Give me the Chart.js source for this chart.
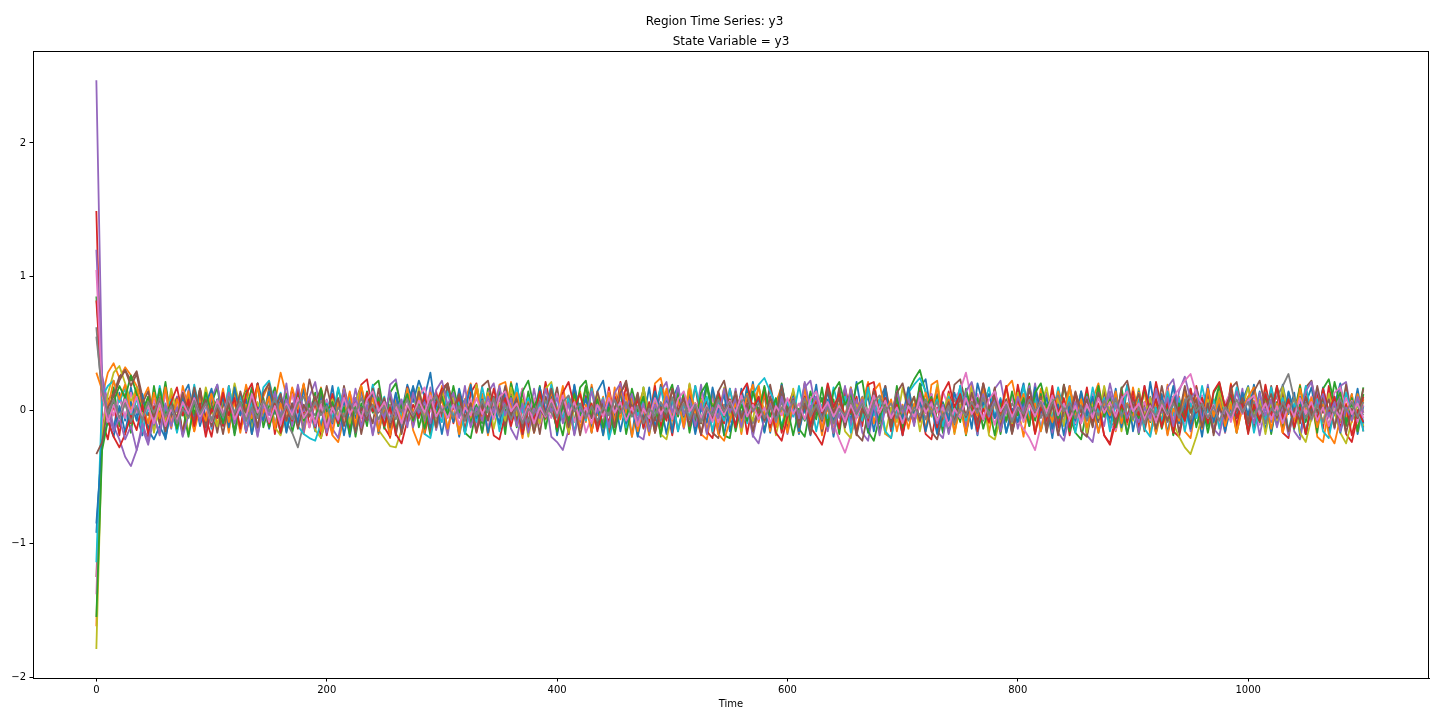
<!DOCTYPE html>
<html>
<head>
<meta charset="utf-8">
<title>Region Time Series: y3</title>
<script src="https://cdn.jsdelivr.net/npm/chart.js@4.4.1/dist/chart.umd.min.js"></script>
<style>
  html, body { margin: 0; padding: 0; background: #fff; }
  canvas { display: block; }
</style>
</head>
<body>
<canvas id="regionChart" width="1440" height="720"></canvas>
<script>
// sampling step of the series (time units), ticks and colours
const STEP = 5;
const xTicks = [0, 200, 400, 600, 800, 1000];
const yTicks = [-2, -1, 0, 1, 2];
const tab10 = ['#1f77b4', '#ff7f0e', '#2ca02c', '#d62728', '#9467bd',
               '#8c564b', '#e377c2', '#7f7f7f', '#bcbd22', '#17becf'];

// y3 per region, one value every STEP time units from t = 0
const y3_r00 = [-0.92,
  -0.2, 0.06, -0.15, 0.13, -0.08, 0.17, -0.03, -0.19, 0.09, -0.12, 0.16, -0.22, 0.02, -0.16, 0.11, 0.19, -0.06, 0.14, -0.14, 0.05,
  0.19, -0.08, 0.12, -0.17, 0.04, 0.16, -0.11, 0.2, 0.05, -0.14, 0.1, -0.18, -0.03, 0.15, -0.1, 0.17, 0.02, -0.16, 0.11, -0.05,
  0.18, -0.12, 0.07, -0.2, 0.04, 0.14, -0.09, 0.17, -0.15, 0.03, -0.18, 0.12, -0.02, 0.19, 0.06, 0.22, 0.1, 0.28, -0.03, 0.14,
  -0.16, 0.08, -0.2, 0.04, 0.17, -0.07, 0.12, -0.18, 0.02, -0.11, 0.16, -0.04, 0.2, -0.09, 0.07, -0.16, 0.13, -0.03, 0.18, -0.19,
  0.03, -0.12, 0.19, -0.05, 0.11, -0.17, 0.14, 0.22, -0.02, 0.1, -0.16, 0.05, -0.2, 0.12, -0.07, 0.17, -0.13, 0.04, -0.18, 0.08,
  0.18, -0.09, 0.13, -0.16, 0.02, 0.2, -0.07, 0.11, -0.19, 0.05, -0.12, 0.16, -0.03, 0.21, -0.08, 0.12, -0.17, 0.06, 0.15, -0.11,
  0.04, -0.18, 0.12, -0.05, 0.19, -0.13, 0.08, -0.2, 0.03, 0.16, -0.09, 0.21, -0.04, 0.11, -0.16, 0.07, 0.18, -0.12, 0.02, -0.19,
  0.09, -0.07, 0.17, 0.23, -0.03, 0.12, -0.17, 0.05, -0.11, 0.18, -0.13, 0.04, -0.19, 0.11, -0.05, 0.16, -0.12, 0.08, -0.17, 0.03,
  0.2, -0.08, 0.13, -0.15, 0.04, -0.21, 0.09, -0.03, 0.18, -0.11, 0.14, -0.18, 0.07, -0.08, 0.17, -0.13, 0.1, -0.04, 0.19, -0.16,
  0.05, -0.11, 0.21, -0.04, 0.12, -0.18, 0.08, -0.07, 0.16, -0.14, 0.03, -0.2, 0.09, -0.02, 0.17, -0.11, 0.13, -0.17, 0.07, 0.18,
  -0.05, 0.14, -0.16, 0.08, -0.12, 0.19, -0.03, 0.13, -0.19, 0.05, 0.17, -0.09, 0.1, -0.16, 0.04, 0.2, -0.07, 0.12, -0.18, 0.03];

const y3_r01 = [-1.62,
  0.1, 0.28, 0.35, 0.24, 0.32, 0.26, 0.18, 0.08, 0.17, -0.04, 0.15, -0.09, 0.12, -0.13, 0.18, 0.01, -0.16, 0.09, -0.06, 0.14,
  -0.12, 0.08, -0.17, 0.13, -0.04, 0.19, 0.03, -0.14, 0.1, 0.2, 0.06, 0.28, 0.11, -0.08, 0.15, -0.18, 0.05, -0.11, 0.17, -0.03,
  -0.19, -0.24, -0.06, 0.1, -0.13, 0.17, -0.05, 0.12, -0.18, 0.03, -0.21, 0.08, -0.11, 0.14, -0.15, -0.26, -0.09, 0.07, -0.14, 0.18,
  -0.04, 0.13, -0.17, 0.07, 0.2, -0.08, 0.12, -0.19, 0.04, 0.16, -0.12, 0.21, -0.02, -0.21, 0.05, -0.13, 0.17, -0.07, 0.11, -0.16,
  0.08, -0.18, 0.03, 0.14, -0.09, 0.19, -0.04, 0.1, -0.16, 0.17, -0.07, 0.12, -0.2, 0.02, 0.15, -0.1, 0.2, 0.24, 0.04, -0.14,
  0.09, -0.12, 0.17, -0.05, -0.18, -0.22, 0.02, -0.13, 0.16, -0.04, 0.1, -0.18, 0.07, 0.19, -0.09, 0.13, -0.16, 0.05, 0.18, -0.08,
  0.12, -0.17, 0.2, -0.03, 0.09, -0.19, 0.05, -0.12, 0.16, -0.07, 0.13, -0.15, 0.04, 0.21, -0.1, 0.08, -0.18, -0.21, 0.03, -0.13,
  0.17, -0.05, 0.11, -0.16, 0.19, 0.22, -0.08, 0.12, -0.18, 0.04, -0.11, 0.2, -0.03, 0.14, -0.17, 0.07, -0.09, 0.18, -0.13, 0.02,
  -0.2, 0.09, -0.07, 0.16, -0.12, 0.05, -0.17, 0.18, 0.03, -0.09, 0.13, -0.19, 0.08, 0.2, -0.04, 0.12, -0.16, 0.04, -0.11, 0.17,
  -0.03, 0.14, -0.18, 0.07, -0.08, 0.19, -0.12, 0.1, -0.16, -0.21, 0.04, -0.09, 0.16, -0.02, 0.12, -0.17, 0.2, -0.05, 0.09, -0.14,
  0.07, -0.1, 0.18, -0.04, 0.13, -0.17, 0.03, -0.12, 0.19, -0.06, 0.1, -0.2, -0.24, 0.01, -0.13, 0.16, -0.05, 0.12, -0.16, 0.08];

const y3_r02 = [0.85,
  0.24, -0.07, 0.17, -0.12, 0.08, -0.17, 0.13, 0.02, -0.14, 0.18, -0.05, 0.21, -0.09, 0.06, -0.18, 0.12, -0.03, 0.16, -0.13, 0.05,
  0.17, -0.1, 0.08, -0.19, 0.04, 0.14, -0.07, 0.2, -0.13, 0.03, 0.17, -0.08, 0.12, -0.17, 0.01, 0.19, -0.04, 0.13, -0.16, 0.06,
  -0.09, 0.16, -0.03, 0.1, -0.2, 0.05, -0.12, 0.18, 0.22, -0.04, 0.13, -0.16, 0.06, -0.08, 0.17, -0.13, 0.03, -0.19, 0.09, -0.05,
  0.19, -0.08, 0.12, -0.17, -0.21, 0.01, -0.1, 0.16, -0.04, 0.13, -0.18, 0.2, 0.04, -0.12, 0.14, -0.06, 0.18, -0.14, 0.08, -0.03,
  -0.19, 0.06, -0.09, 0.17, 0.22, -0.01, 0.1, -0.16, 0.05, -0.08, 0.14, -0.18, 0.03, -0.13, 0.17, -0.04, 0.12, -0.2, 0.09, 0.19,
  -0.05, 0.13, -0.17, 0.04, -0.1, 0.18, -0.03, 0.12, -0.19, -0.21, 0.05, -0.09, 0.16, -0.01, 0.1, -0.16, 0.06, -0.08, 0.2, -0.04,
  0.13, -0.14, -0.2, 0.03, -0.07, 0.17, -0.1, 0.08, -0.18, 0.12, -0.03, 0.19, 0.22, -0.05, 0.09, -0.16, 0.04, -0.12, 0.18, -0.08,
  0.14, 0.23, 0.3, 0.13, -0.04, 0.1, -0.17, 0.03, -0.09, 0.13, -0.19, 0.05, -0.12, 0.17, -0.03, 0.09, -0.18, 0.06, -0.13, 0.16,
  -0.01, 0.2, -0.08, 0.12, -0.16, 0.05, -0.1, 0.19, -0.04, -0.17, -0.22, 0.01, -0.12, 0.16, -0.05, 0.1, -0.14, 0.17, -0.07, 0.08,
  -0.18, 0.04, -0.09, 0.18, -0.02, 0.12, -0.19, 0.08, -0.05, 0.16, -0.13, 0.06, -0.17, 0.03, 0.19, -0.08, 0.13, -0.16, 0.05, -0.1,
  0.17, -0.04, 0.1, -0.18, 0.06, -0.14, 0.13, -0.02, 0.18, -0.09, 0.08, -0.17, 0.14, -0.05, 0.21, 0.04, -0.12, 0.09, -0.16, 0.12];

const y3_r03 = [1.49,
  -0.08, -0.22, 0.05, -0.19, 0.12, -0.1, 0.17, -0.15, -0.2, 0.03, -0.09, 0.14, -0.04, 0.1, -0.18, 0.06, -0.13, 0.16, -0.06, -0.2,
  0.04, -0.12, 0.18, -0.05, 0.09, -0.17, 0.01, 0.2, -0.08, 0.13, -0.18, 0.05, -0.1, 0.16, -0.02, 0.19, -0.13, 0.06, -0.21, -0.05,
  0.12, -0.09, 0.16, -0.15, 0.06, 0.19, 0.23, -0.01, 0.1, -0.13, -0.2, 0.04, -0.06, 0.17, -0.12, 0.08, -0.18, 0.02, 0.14, -0.05,
  0.18, -0.1, 0.08, -0.17, 0.13, 0.2, -0.04, 0.06, -0.19, -0.22, -0.03, 0.12, -0.09, 0.16, -0.14, 0.05, -0.06, 0.21, 0.01, -0.13,
  0.08, -0.18, 0.14, -0.04, 0.1, -0.16, 0.02, -0.12, 0.17, -0.06, 0.21, -0.01, 0.13, -0.17, 0.05, -0.09, 0.18, -0.13, 0.04, -0.19,
  0.06, -0.08, 0.19, -0.12, 0.09, -0.16, -0.21, 0.01, -0.1, 0.16, -0.04, 0.12, -0.18, 0.05, -0.06, 0.17, -0.13, 0.08, -0.17, 0.02,
  0.14, -0.05, 0.18, -0.13, -0.19, -0.26, -0.09, 0.04, -0.14, 0.17, -0.02, 0.1, -0.12, 0.19, 0.21, -0.04, 0.09, -0.16, 0.05, -0.08,
  0.16, -0.1, 0.06, -0.18, -0.22, 0.02, -0.08, 0.14, -0.04, 0.12, -0.17, 0.05, -0.09, 0.2, 0.01, 0.13, -0.16, 0.06, -0.12, 0.19,
  -0.02, 0.1, -0.17, 0.05, -0.08, 0.18, -0.13, 0.09, -0.19, 0.04, -0.06, 0.17, -0.1, 0.02, -0.19, -0.25, -0.04, 0.12, -0.09, 0.14,
  -0.13, 0.06, -0.05, 0.21, 0.02, 0.13, -0.16, -0.2, 0.01, -0.1, 0.18, -0.05, 0.09, -0.17, 0.04, -0.08, 0.19, -0.12, 0.08, -0.18,
  0.03, -0.09, 0.19, -0.02, 0.12, -0.17, -0.21, 0.04, -0.1, 0.16, -0.06, 0.13, -0.14, 0.18, -0.04, 0.08, -0.18, -0.24, -0.05, 0.1];

const y3_r04 = [2.47,
  0.26, 0.05, -0.12, -0.22, -0.35, -0.42, -0.3, -0.14, -0.26, -0.06, -0.19, 0.03, -0.14, 0.1, -0.04, 0.15, -0.12, 0.05, -0.17, 0.09,
  0.19, -0.06, 0.12, -0.16, 0.04, -0.1, 0.17, -0.19, 0.01, -0.13, 0.14, -0.05, 0.2, -0.12, 0.06, -0.17, 0.1, 0.21, -0.02, 0.08,
  -0.14, -0.21, 0.02, -0.08, 0.16, -0.04, 0.1, -0.18, 0.05, -0.12, 0.19, 0.23, -0.01, 0.09, -0.13, 0.04, -0.08, 0.17, -0.15, 0.01,
  -0.19, 0.08, -0.05, 0.18, -0.1, 0.02, -0.17, 0.13, 0.2, -0.02, 0.06, -0.14, -0.22, 0.01, -0.09, 0.16, -0.06, 0.1, -0.2, -0.24,
  -0.3, -0.15, 0.04, -0.09, 0.18, -0.05, 0.12, -0.17, 0.02, -0.13, 0.17, -0.02, 0.09, -0.19, -0.22, 0.01, -0.08, 0.14, 0.21, -0.04,
  0.08, -0.14, 0.05, -0.06, 0.19, -0.1, 0.13, -0.18, 0.04, -0.08, 0.16, -0.13, 0.06, -0.2, 0.01, -0.09, 0.17, -0.04, 0.12, -0.18,
  0.02, -0.1, 0.17, 0.22, -0.01, 0.09, -0.16, 0.05, -0.06, 0.18, -0.12, 0.08, -0.17, -0.23, 0.01, -0.08, 0.14, -0.04, 0.1, -0.18,
  0.06, -0.09, 0.19, -0.02, 0.12, -0.16, -0.21, 0.04, -0.08, 0.17, -0.13, 0.05, -0.18, 0.09, -0.04, 0.16, 0.22, -0.01, 0.1, -0.14,
  0.02, -0.08, 0.2, -0.05, 0.13, -0.17, 0.06, -0.1, 0.18, -0.02, 0.09, -0.19, -0.24, 0.01, -0.12, 0.14, -0.05, 0.08, -0.18, 0.04,
  -0.09, 0.18, -0.01, 0.1, -0.13, 0.17, 0.23, -0.02, 0.08, -0.16, 0.05, -0.06, 0.19, -0.1, 0.04, -0.17, 0.12, -0.05, 0.16, -0.12,
  0.05, -0.19, 0.02, -0.09, 0.17, -0.04, 0.1, -0.16, -0.22, 0.01, -0.08, 0.16, -0.02, 0.09, -0.14, 0.18, 0.21, -0.05, 0.08, -0.13];

const y3_r05 = [-1.25,
  -0.14, 0.08, 0.12, 0.25, 0.3, 0.22, 0.29, 0.1, -0.04, 0.08, -0.11, 0.17, -0.05, 0.09, -0.19, 0.02, -0.08, 0.16, -0.13, 0.05,
  -0.17, 0.06, -0.09, 0.18, -0.02, 0.12, -0.18, 0.04, -0.06, 0.17, -0.12, 0.08, -0.16, 0.01, 0.13, -0.05, 0.23, 0.06, 0.16, -0.1,
  0.04, -0.08, 0.18, -0.02, 0.09, -0.18, 0.02, -0.1, 0.16, -0.05, 0.13, -0.19, 0.05, -0.09, 0.17, -0.01, 0.1, -0.16, 0.06, -0.04,
  0.19, -0.06, 0.12, -0.17, 0.04, -0.09, 0.18, 0.22, 0.02, 0.13, -0.12, 0.05, -0.05, 0.14, -0.09, 0.06, -0.18, 0.1, -0.02, 0.17,
  -0.08, 0.09, -0.18, 0.04, -0.05, 0.17, -0.12, 0.06, -0.19, 0.02, 0.12, 0.22, -0.02, 0.13, -0.14, 0.05, -0.08, 0.19, -0.04, 0.09,
  -0.16, 0.05, -0.06, 0.18, -0.1, 0.08, -0.17, -0.21, 0.01, -0.09, 0.14, -0.04, 0.1, -0.17, 0.02, -0.06, 0.19, -0.02, 0.12, -0.14,
  0.05, -0.08, 0.2, -0.04, 0.1, -0.16, 0.04, -0.06, 0.17, -0.12, 0.08, -0.18, -0.23, -0.02, 0.09, -0.1, 0.18, -0.05, 0.13, -0.17,
  0.02, -0.09, 0.17, -0.01, 0.12, -0.17, 0.05, -0.08, 0.19, 0.23, 0.04, 0.14, -0.12, 0.06, -0.05, 0.17, -0.14, 0.08, -0.18, 0.01,
  -0.06, 0.16, -0.02, 0.1, -0.17, 0.06, -0.08, 0.19, -0.01, 0.12, -0.16, -0.2, 0.02, -0.09, 0.14, -0.04, 0.09, -0.13, 0.17, -0.05,
  0.08, -0.16, 0.04, -0.06, 0.18, -0.02, 0.1, -0.17, 0.05, -0.09, 0.17, -0.01, 0.12, -0.19, 0.04, -0.08, 0.16, 0.21, -0.01, 0.09,
  -0.14, 0.05, -0.08, 0.18, -0.04, 0.13, -0.17, 0.02, -0.09, 0.17, 0.22, -0.02, 0.1, -0.13, 0.06, -0.05, 0.19, -0.08, 0.12, -0.16];

const y3_r06 = [-1.38,
  -0.08, 0.07, -0.04, 0.1, -0.06, 0.13, -0.02, 0.05, -0.11, 0.08, -0.05, 0.12, -0.09, 0.03, 0.14, -0.03, 0.09, -0.07, 0.06, -0.12,
  0.04, -0.08, 0.11, -0.04, 0.07, -0.1, 0.15, 0.01, -0.06, 0.09, -0.12, 0.05, -0.03, 0.12, -0.08, 0.02, -0.13, 0.1, -0.01, 0.07,
  -0.12, 0.03, -0.06, 0.13, 0.01, 0.15, -0.07, 0.04, -0.11, 0.08, -0.03, 0.11, -0.13, 0.02, -0.05, 0.1, 0.17, -0.01, 0.06, -0.09,
  0.05, -0.04, 0.13, -0.06, 0.08, -0.12, 0.02, -0.14, 0.06, -0.02, 0.11, -0.08, 0.04, 0.16, -0.03, 0.09, -0.11, 0.03, -0.06, 0.12,
  -0.02, 0.1, -0.09, 0.04, -0.17, -0.05, 0.07, -0.03, 0.14, -0.07, 0.05, -0.1, 0.11, -0.01, 0.06, -0.13, 0.03, -0.04, 0.12, -0.08,
  0.03, -0.12, 0.06, -0.03, 0.13, -0.06, 0.09, -0.09, 0.04, -0.02, 0.12, -0.07, 0.05, -0.16, 0.01, -0.05, 0.11, -0.1, 0.07, -0.04,
  0.09, -0.05, 0.14, -0.02, 0.06, -0.12, 0.03, -0.1, -0.22, -0.32, -0.19, -0.06, 0.08, -0.02, 0.11, -0.07, 0.04, -0.11, 0.13, -0.01,
  0.08, -0.09, 0.03, -0.06, 0.12, -0.02, 0.14, 0.02, 0.09, 0.15, 0.28, 0.07, 0.12, -0.05, 0.04, -0.11, 0.06, -0.03, 0.1, -0.08,
  -0.14, -0.21, -0.3, -0.12, 0.02, -0.06, 0.11, -0.03, 0.07, -0.1, 0.04, -0.05, 0.12, -0.02, 0.08, -0.12, -0.15, 0.01, -0.04, 0.1,
  -0.03, 0.06, -0.08, 0.13, -0.01, 0.15, -0.06, 0.03, -0.1, 0.07, -0.04, 0.11, -0.07, 0.02, -0.12, 0.05, 0.14, -0.02, 0.09, -0.06,
  0.03, -0.11, 0.08, -0.02, 0.12, -0.05, 0.04, -0.13, 0.06, -0.03, 0.1, -0.08, 0.02, -0.06, 0.13, 0.17, -0.01, 0.07, -0.09, 0.04];

const y3_r07 = [0.62,
  0.09, -0.04, 0.07, -0.02, 0.1, -0.06, 0.03, -0.09, 0.05, -0.03, 0.08, -0.1, 0.02, -0.05, 0.09, -0.01, 0.11, -0.04, 0.04, -0.07,
  0.06, -0.05, 0.08, -0.02, 0.04, -0.08, 0.07, 0.01, -0.06, 0.09, -0.03, 0.05, -0.09, -0.17, -0.28, -0.1, 0.01, -0.04, 0.07, -0.02,
  0.05, -0.08, 0.03, -0.11, 0.02, -0.04, 0.09, -0.01, 0.1, -0.05, 0.04, -0.07, 0.06, -0.1, -0.02, 0.07, -0.03, 0.09, -0.06, 0.02,
  -0.04, 0.1, -0.02, 0.06, -0.09, 0.03, -0.06, 0.05, -0.01, 0.08, -0.07, 0.11, -0.03, 0.04, -0.09, 0.02, -0.05, 0.07, -0.02, -0.1,
  0.03, -0.05, 0.09, -0.01, 0.07, -0.06, 0.02, -0.1, 0.04, -0.12, 0.01, -0.04, 0.08, -0.02, 0.1, -0.05, 0.05, -0.08, 0.03, -0.03,
  0.06, -0.09, 0.02, -0.04, 0.08, -0.01, 0.12, -0.06, 0.04, -0.07, 0.07, -0.02, 0.05, -0.1, 0.0, -0.05, 0.09, -0.03, 0.06, -0.08,
  0.04, -0.06, 0.07, -0.02, 0.09, -0.05, 0.01, -0.1, 0.03, -0.04, 0.08, -0.01, 0.1, -0.06, 0.05, -0.09, 0.02, -0.03, 0.07, -0.05,
  0.11, -0.02, 0.05, -0.07, 0.03, -0.11, 0.02, -0.04, 0.08, -0.01, 0.12, -0.05, 0.06, -0.08, 0.03, -0.06, 0.01, -0.09, 0.05, -0.02,
  0.07, -0.04, 0.09, -0.06, 0.03, -0.1, 0.02, -0.05, 0.08, -0.02, 0.1, -0.07, 0.04, -0.03, 0.06, -0.09, -0.13, 0.0, -0.05, 0.08,
  0.03, -0.06, 0.1, -0.02, 0.05, -0.09, 0.01, -0.04, 0.08, -0.07, 0.04, -0.11, 0.02, -0.05, 0.09, -0.01, 0.11, -0.04, 0.03, -0.07,
  0.06, -0.02, 0.13, 0.04, 0.1, 0.18, 0.27, 0.08, 0.03, -0.06, 0.02, -0.09, 0.05, -0.03, 0.08, -0.06, 0.02, -0.08, 0.05, -0.04];

const y3_r08 = [-1.79,
  -0.2, 0.12, 0.28, 0.33, 0.2, 0.06, 0.17, -0.05, 0.1, -0.17, 0.04, -0.09, 0.16, -0.02, 0.12, -0.18, 0.05, -0.08, 0.17, -0.01,
  -0.12, 0.09, -0.04, 0.2, 0.02, 0.13, -0.16, 0.06, -0.08, 0.14, -0.13, -0.19, 0.01, -0.06, 0.17, -0.02, 0.1, -0.15, -0.21, -0.04,
  0.08, -0.06, 0.16, -0.1, 0.05, 0.18, -0.02, 0.09, -0.15, -0.21, -0.27, -0.28, -0.15, 0.01, -0.08, 0.17, -0.04, 0.12, -0.13, 0.14,
  -0.02, 0.09, -0.18, 0.04, -0.06, 0.19, -0.01, 0.13, -0.14, 0.05, -0.08, 0.17, -0.04, 0.08, -0.2, 0.02, -0.1, 0.16, 0.21, -0.02,
  0.09, -0.17, 0.02, -0.06, 0.18, -0.04, 0.12, -0.19, 0.04, -0.09, 0.14, -0.02, 0.08, -0.12, 0.17, -0.05, 0.06, -0.18, -0.22, -0.02,
  0.1, -0.08, 0.2, -0.01, 0.08, -0.17, 0.05, -0.06, 0.17, -0.04, 0.12, -0.16, 0.02, -0.08, 0.18, -0.02, 0.09, -0.19, 0.01, -0.1,
  0.16, -0.05, 0.08, -0.18, 0.02, -0.08, 0.19, -0.01, 0.1, -0.16, -0.21, 0.04, -0.06, 0.14, -0.04, 0.09, -0.18, 0.02, -0.09, 0.17,
  -0.02, 0.1, -0.16, 0.05, -0.05, 0.19, -0.02, 0.12, -0.17, 0.04, -0.08, 0.17, -0.01, 0.09, -0.19, -0.22, -0.06, 0.05, -0.1, 0.13,
  -0.09, 0.06, -0.17, 0.02, 0.17, -0.05, 0.09, -0.12, 0.16, -0.02, 0.08, -0.17, 0.04, -0.06, 0.18, -0.01, 0.1, -0.16, 0.05, -0.08,
  0.16, -0.04, 0.09, -0.18, 0.01, -0.06, -0.1, -0.2, -0.28, -0.33, -0.2, -0.05, 0.08, -0.1, 0.14, -0.02, 0.06, -0.17, 0.02, 0.17,
  -0.05, 0.08, -0.18, 0.04, -0.08, 0.17, -0.02, 0.09, -0.17, -0.24, -0.06, 0.05, -0.1, 0.12, -0.02, -0.17, -0.25, -0.08, 0.04, -0.12];

const y3_r09 = [-1.14,
  0.1, 0.18, 0.22, 0.06, 0.16, -0.04, 0.09, -0.16, 0.02, -0.08, 0.18, -0.02, 0.08, -0.17, 0.04, -0.06, 0.19, -0.01, 0.1, -0.14,
  0.02, -0.08, 0.18, -0.04, 0.12, -0.16, 0.05, -0.06, 0.17, 0.22, 0.04, 0.13, -0.12, 0.01, -0.12, -0.18, -0.21, -0.23, -0.1, 0.05,
  -0.06, 0.17, -0.02, 0.09, -0.17, 0.02, -0.08, 0.19, -0.01, 0.1, -0.16, 0.05, -0.05, 0.16, -0.04, 0.08, -0.18, -0.21, 0.0, -0.09,
  0.14, -0.05, 0.06, -0.18, 0.02, -0.09, 0.17, -0.01, 0.1, -0.16, 0.04, -0.06, 0.18, -0.02, 0.09, -0.16, 0.05, -0.04, 0.19, 0.01,
  -0.06, 0.1, -0.17, 0.04, -0.08, 0.16, -0.02, 0.09, -0.22, -0.05, 0.06, -0.13, 0.14, -0.04, 0.08, -0.18, 0.02, 0.17, -0.05, 0.09,
  -0.16, 0.04, -0.06, 0.18, -0.01, 0.1, -0.16, 0.05, -0.08, 0.16, -0.04, 0.09, -0.1, 0.12, 0.19, 0.24, 0.14, 0.04, -0.12, 0.06,
  -0.05, 0.18, -0.02, 0.09, -0.16, 0.04, -0.06, 0.17, -0.01, 0.1, -0.17, 0.02, -0.08, 0.17, -0.04, 0.08, -0.16, -0.21, 0.01, -0.09,
  0.13, 0.19, 0.24, 0.14, -0.02, 0.08, -0.12, 0.1, -0.04, 0.18, -0.08, 0.05, -0.16, 0.02, 0.17, -0.05, 0.09, -0.17, 0.01, -0.08,
  0.18, -0.04, 0.08, -0.16, 0.02, -0.06, 0.17, -0.01, 0.1, -0.17, 0.04, -0.08, 0.17, -0.02, 0.09, -0.16, 0.05, -0.06, 0.18, -0.01,
  0.08, -0.14, -0.2, 0.02, -0.08, 0.14, -0.04, 0.09, -0.16, 0.05, -0.06, 0.18, -0.02, 0.08, -0.14, 0.04, -0.05, 0.17, -0.01, 0.1,
  -0.17, 0.02, -0.08, 0.17, -0.04, 0.09, -0.16, 0.05, -0.06, 0.18, -0.02, 0.08, -0.16, -0.21, 0.01, -0.09, 0.13, -0.04, 0.06, -0.16];

const y3_r10 = [-0.85,
  -0.24, -0.08, -0.2, 0.03, -0.17, 0.06, -0.08, 0.12, -0.15, -0.22, -0.12, -0.21, 0.01, -0.1, 0.09, -0.05, 0.13, -0.12, 0.04, 0.16,
  -0.06, 0.1, -0.13, 0.17, -0.04, 0.08, -0.18, 0.02, -0.08, 0.14, -0.02, 0.12, -0.17, 0.05, -0.09, 0.16, -0.01, 0.09, -0.14, 0.04,
  -0.1, 0.08, -0.19, 0.02, -0.06, 0.16, -0.04, 0.12, -0.17, 0.05, -0.08, 0.13, -0.16, 0.01, 0.18, -0.04, 0.09, -0.13, 0.06, -0.18,
  0.04, -0.09, 0.16, -0.02, 0.19, -0.06, 0.08, -0.17, 0.02, -0.1, 0.14, -0.05, 0.12, -0.18, 0.04, -0.08, 0.17, -0.01, 0.1, -0.16,
  0.05, -0.08, 0.18, -0.04, 0.09, -0.14, 0.02, -0.19, 0.06, -0.05, 0.16, -0.1, 0.04, -0.2, 0.01, -0.06, 0.14, -0.02, 0.1, -0.17,
  0.16, -0.05, 0.08, -0.18, 0.02, -0.09, 0.17, -0.02, 0.12, -0.16, 0.04, -0.08, 0.18, -0.01, 0.09, -0.17, 0.05, -0.06, 0.19, -0.04,
  0.1, -0.16, 0.02, -0.19, 0.06, -0.05, 0.14, -0.09, 0.04, -0.13, 0.17, -0.02, 0.08, -0.17, 0.01, -0.08, 0.16, -0.14, 0.05, -0.06,
  0.17, -0.04, 0.09, -0.16, 0.02, -0.18, 0.06, -0.08, 0.13, -0.02, 0.1, -0.14, 0.2, 0.04, 0.12, -0.06, 0.08, -0.17, 0.01, -0.09,
  0.06, -0.12, 0.17, -0.02, 0.09, -0.14, 0.04, -0.19, 0.05, -0.08, 0.14, -0.04, 0.1, -0.17, 0.02, -0.06, 0.16, -0.13, 0.05, -0.05,
  0.14, -0.08, 0.04, -0.17, 0.09, -0.02, 0.18, -0.1, 0.06, -0.14, 0.01, -0.05, 0.17, -0.09, 0.08, -0.16, 0.02, -0.06, 0.13, -0.04,
  0.19, -0.05, 0.08, -0.16, 0.04, -0.09, 0.14, -0.02, 0.1, -0.18, 0.02, -0.08, 0.17, -0.04, 0.09, -0.17, 0.01, -0.06, 0.16, -0.1];

const y3_r11 = [0.28,
  0.15, 0.02, 0.22, 0.08, 0.19, -0.02, 0.15, 0.03, -0.1, 0.13, -0.06, 0.17, -0.13, 0.08, -0.04, 0.14, -0.16, 0.02, -0.08, 0.12,
  -0.04, 0.16, -0.09, 0.06, -0.17, 0.04, -0.06, 0.18, -0.02, 0.1, -0.14, 0.05, -0.08, 0.17, 0.01, 0.2, -0.04, 0.09, -0.16, 0.02,
  -0.18, 0.06, -0.05, 0.14, -0.12, 0.18, -0.01, 0.09, -0.16, 0.04, -0.19, 0.05, -0.08, 0.16, -0.02, 0.1, -0.17, 0.13, -0.04, 0.08,
  -0.14, 0.04, -0.18, 0.08, -0.05, 0.16, -0.08, 0.12, -0.02, 0.19, 0.21, 0.02, 0.13, -0.1, 0.06, -0.17, 0.01, -0.06, 0.14, -0.02,
  0.18, -0.06, 0.09, -0.14, 0.04, -0.17, 0.08, -0.04, 0.13, -0.09, 0.17, -0.02, 0.1, -0.16, 0.02, -0.19, 0.05, -0.05, 0.16, -0.08,
  0.09, -0.13, 0.16, -0.02, 0.06, -0.16, 0.04, -0.18, -0.23, -0.08, 0.05, -0.1, 0.12, -0.01, 0.18, -0.05, 0.08, -0.13, 0.02, -0.17,
  0.06, -0.04, 0.16, -0.08, 0.1, -0.14, 0.02, -0.17, 0.05, -0.06, 0.17, -0.01, 0.09, -0.12, 0.14, 0.2, -0.02, 0.08, -0.16, 0.04,
  -0.14, 0.05, -0.09, 0.13, -0.02, 0.17, -0.06, 0.08, -0.16, 0.02, -0.18, 0.06, -0.04, 0.16, -0.1, 0.09, -0.05, 0.17, 0.22, 0.02,
  0.12, -0.08, 0.05, -0.16, 0.04, -0.09, 0.14, -0.02, 0.18, -0.06, 0.08, -0.13, 0.02, -0.17, 0.06, -0.04, 0.14, -0.1, 0.05, -0.05,
  0.13, -0.09, 0.04, -0.17, 0.06, -0.19, 0.01, -0.08, 0.14, -0.02, 0.09, -0.14, 0.16, -0.05, 0.08, -0.12, 0.04, -0.17, 0.02, 0.1,
  0.17, -0.04, 0.08, -0.14, 0.05, -0.17, 0.02, -0.08, 0.16, -0.01, 0.09, -0.13, 0.04, -0.18, -0.25, -0.06, 0.05, -0.09, 0.12, -0.02];

const y3_r12 = [-1.55,
  -0.3, -0.08, 0.06, 0.18, 0.09, 0.26, 0.12, -0.01, 0.1, -0.08, 0.16, -0.04, 0.06, -0.14, 0.02, -0.2, 0.05, -0.06, 0.13, -0.02,
  0.08, -0.1, 0.04, -0.16, 0.06, -0.02, 0.17, -0.05, 0.09, -0.13, 0.02, -0.17, 0.08, -0.04, 0.14, -0.08, 0.05, -0.1, 0.16, -0.01,
  0.06, -0.12, 0.02, -0.18, 0.05, -0.06, 0.14, -0.02, 0.09, -0.14, 0.13, 0.2, 0.01, 0.12, -0.08, 0.05, -0.14, 0.04, -0.05, 0.1,
  -0.04, 0.18, -0.02, 0.08, -0.1, 0.04, -0.17, 0.06, -0.05, 0.16, -0.02, 0.1, -0.13, 0.14, 0.22, 0.02, 0.13, -0.06, 0.08, -0.16,
  0.04, -0.08, 0.12, -0.04, 0.18, -0.06, 0.08, -0.13, 0.02, -0.18, 0.05, -0.08, 0.16, -0.01, 0.1, -0.16, 0.04, -0.18, 0.01, -0.06,
  0.13, -0.04, 0.06, -0.1, 0.13, 0.2, 0.01, 0.12, -0.05, 0.08, -0.16, 0.04, -0.08, 0.14, -0.02, 0.18, -0.05, 0.09, -0.14, 0.02,
  -0.19, 0.01, -0.08, 0.14, -0.04, 0.09, -0.12, 0.14, 0.21, 0.04, 0.12, -0.06, 0.05, -0.16, -0.23, -0.05, 0.06, -0.09, 0.1, -0.13,
  0.05, -0.06, 0.2, 0.02, 0.1, -0.08, 0.05, -0.17, 0.04, -0.09, 0.16, -0.01, 0.09, -0.14, 0.02, -0.19, 0.05, -0.08, 0.14, -0.04,
  0.09, -0.12, 0.13, 0.2, 0.02, 0.1, -0.06, 0.06, -0.16, 0.01, -0.09, 0.12, -0.02, 0.18, -0.05, 0.08, -0.13, 0.04, -0.18, 0.02,
  -0.06, 0.16, -0.02, 0.08, -0.14, 0.04, -0.18, 0.05, -0.08, 0.14, -0.01, 0.09, -0.12, 0.13, 0.2, 0.02, 0.1, -0.06, 0.06, -0.16,
  0.02, -0.09, 0.1, -0.02, 0.18, -0.05, 0.08, -0.14, 0.04, -0.18, 0.05, -0.08, 0.16, 0.23, 0.04, 0.13, -0.1, 0.05, -0.06, 0.17];

const y3_r13 = [0.82,
  0.12, -0.08, -0.2, -0.28, -0.18, -0.04, -0.15, 0.04, -0.18, -0.02, 0.09, -0.13, 0.06, 0.17, -0.04, 0.08, -0.12, 0.05, -0.2, 0.01,
  -0.06, 0.13, -0.04, 0.09, -0.14, 0.12, 0.2, -0.02, 0.06, -0.1, 0.05, -0.17, 0.02, -0.08, 0.16, -0.02, 0.09, -0.13, 0.04, -0.19,
  0.02, -0.1, 0.14, -0.02, 0.08, -0.13, 0.13, -0.01, 0.06, -0.12, 0.02, -0.18, -0.25, -0.08, 0.04, -0.06, 0.12, -0.1, 0.05, 0.16,
  0.2, 0.01, 0.1, -0.08, 0.05, -0.17, 0.01, -0.06, 0.16, -0.02, 0.09, -0.12, 0.04, -0.18, 0.02, -0.08, 0.14, -0.04, 0.08, -0.13,
  0.13, 0.21, 0.02, 0.12, -0.06, 0.05, -0.16, 0.01, -0.09, 0.1, -0.02, 0.18, -0.04, 0.08, -0.13, 0.06, -0.17, 0.02, -0.08, 0.16,
  -0.01, 0.09, -0.12, 0.05, -0.19, 0.02, -0.06, 0.14, -0.02, 0.08, -0.13, 0.13, 0.2, 0.01, 0.1, -0.08, 0.04, -0.17, -0.23, -0.05,
  0.08, -0.04, 0.1, -0.12, 0.06, -0.02, 0.2, 0.02, 0.12, -0.06, 0.05, -0.17, 0.01, -0.08, 0.16, -0.02, 0.09, -0.13, 0.04, -0.19,
  0.02, -0.1, 0.14, -0.02, 0.08, -0.13, 0.13, 0.21, 0.02, 0.12, -0.05, 0.06, -0.16, 0.01, -0.09, 0.08, -0.02, 0.18, -0.04, 0.08,
  -0.05, 0.09, -0.18, 0.02, -0.08, 0.14, -0.02, 0.08, -0.13, 0.13, -0.01, 0.09, -0.06, 0.05, -0.19, -0.26, -0.09, 0.04, -0.05, 0.1,
  -0.04, 0.18, -0.02, 0.08, -0.13, 0.06, -0.17, 0.02, -0.08, 0.16, -0.02, 0.09, -0.1, 0.14, 0.21, 0.02, 0.12, -0.06, 0.05, -0.16,
  0.04, -0.08, 0.12, -0.04, 0.18, -0.06, 0.08, -0.13, 0.02, -0.18, 0.05, -0.08, 0.16, -0.01, 0.1, -0.14, 0.04, -0.19, 0.0, -0.09];

const y3_r14 = [1.2,
  0.2, -0.02, -0.16, -0.06, -0.22, -0.12, -0.3, -0.1, -0.23, -0.05, -0.17, 0.05, -0.12, 0.02, -0.2, -0.04, 0.08, -0.09, 0.06, -0.13,
  0.08, -0.05, 0.13, -0.1, 0.05, -0.16, 0.02, -0.2, 0.06, -0.04, 0.13, -0.09, 0.08, -0.02, 0.19, -0.01, 0.1, -0.12, 0.04, -0.17,
  0.01, -0.08, 0.16, -0.02, 0.09, -0.13, 0.04, -0.19, 0.02, -0.06, 0.14, -0.04, 0.08, -0.13, 0.13, -0.02, 0.06, -0.1, 0.15, 0.22,
  0.04, 0.13, -0.06, 0.08, -0.13, 0.02, -0.08, 0.1, -0.02, 0.18, -0.04, 0.09, -0.12, 0.05, -0.17, 0.01, -0.06, 0.16, -0.01, 0.09,
  -0.1, 0.05, -0.19, 0.01, -0.06, 0.14, -0.02, 0.08, -0.13, 0.13, 0.2, 0.01, 0.12, -0.08, 0.05, -0.16, 0.04, -0.06, 0.1, -0.02,
  0.18, -0.04, 0.08, -0.12, 0.05, -0.18, 0.02, -0.06, 0.16, -0.02, 0.09, -0.13, 0.04, -0.19, -0.25, -0.06, 0.05, -0.09, 0.1, -0.04,
  0.09, -0.06, 0.21, 0.01, 0.1, -0.08, 0.05, -0.17, 0.02, -0.08, 0.16, -0.02, 0.08, -0.13, 0.04, -0.19, 0.01, -0.06, 0.14, -0.02,
  0.08, -0.12, 0.13, -0.02, 0.06, -0.1, 0.04, -0.18, 0.01, -0.06, 0.14, 0.21, 0.02, 0.12, -0.05, 0.08, -0.16, 0.02, -0.08, 0.1,
  -0.02, 0.18, -0.04, 0.08, -0.13, 0.05, -0.17, -0.23, -0.04, 0.06, -0.09, 0.1, -0.05, 0.13, -0.02, 0.2, 0.01, 0.1, -0.06, 0.05,
  -0.17, 0.02, -0.06, 0.16, -0.02, 0.09, -0.12, 0.14, 0.25, 0.08, 0.15, -0.08, 0.05, -0.14, -0.19, 0.01, -0.06, 0.14, -0.02, 0.08,
  -0.1, 0.13, -0.04, 0.08, -0.13, 0.04, -0.19, 0.01, -0.06, 0.14, 0.21, 0.02, 0.12, -0.05, 0.06, -0.16, 0.02, -0.08, 0.1, -0.02];

const y3_r15 = [-0.33,
  -0.24, 0.02, 0.1, 0.22, 0.3, 0.18, 0.27, 0.05, 0.14, -0.05, 0.08, -0.16, 0.04, -0.06, 0.13, -0.04, 0.17, -0.02, 0.08, -0.12,
  0.02, -0.18, 0.05, -0.06, 0.14, -0.02, 0.09, -0.13, 0.13, 0.2, 0.01, 0.12, -0.08, 0.05, -0.14, 0.04, -0.05, 0.1, -0.02, 0.18,
  -0.01, 0.09, -0.12, 0.05, -0.17, 0.02, -0.08, 0.16, -0.02, 0.09, -0.13, 0.04, -0.18, 0.02, -0.06, 0.14, -0.02, 0.08, -0.13, 0.13,
  0.2, 0.01, 0.12, -0.06, 0.05, -0.16, 0.04, -0.08, 0.1, -0.02, 0.18, -0.04, 0.08, -0.13, 0.05, -0.17, 0.01, -0.06, 0.16, -0.02,
  0.08, -0.13, 0.04, -0.19, 0.01, -0.06, 0.14, -0.02, 0.08, -0.13, 0.13, 0.2, 0.01, 0.1, -0.08, 0.04, -0.17, 0.02, -0.06, 0.16,
  -0.02, 0.09, -0.12, 0.05, -0.18, 0.02, -0.06, 0.14, 0.22, 0.02, 0.12, -0.06, 0.05, -0.16, 0.01, -0.08, 0.1, -0.04, 0.18, -0.02,
  0.08, -0.13, 0.05, -0.18, 0.02, -0.08, 0.16, -0.02, 0.09, -0.13, 0.04, -0.19, 0.01, -0.06, 0.14, -0.02, 0.08, -0.13, 0.13, 0.2,
  0.01, 0.1, -0.08, 0.05, -0.16, -0.22, -0.04, 0.06, -0.09, 0.1, -0.05, 0.13, -0.02, 0.2, 0.01, 0.1, -0.06, 0.06, -0.17, 0.02,
  -0.06, 0.16, -0.02, 0.08, -0.13, 0.04, -0.19, 0.01, -0.06, 0.14, -0.02, 0.08, -0.13, 0.13, -0.01, 0.06, -0.1, 0.16, 0.22, 0.02,
  0.12, -0.06, 0.05, -0.14, 0.02, -0.08, 0.1, -0.04, 0.18, -0.02, 0.08, -0.13, 0.05, -0.17, 0.01, -0.06, 0.16, -0.01, 0.09, -0.1,
  0.14, 0.22, 0.02, 0.12, -0.06, 0.05, -0.16, 0.01, -0.08, 0.1, -0.04, 0.18, -0.02, 0.08, -0.13, 0.05, -0.17, 0.01, -0.06, 0.16];

const y3_r16 = [1.05,
  0.12, -0.09, 0.04, -0.07, 0.08, -0.02, 0.1, -0.06, 0.03, -0.1, 0.05, -0.12, 0.01, -0.08, 0.06, -0.03, 0.09, -0.05, 0.04, -0.09,
  0.07, -0.03, 0.1, -0.07, 0.02, -0.05, 0.12, -0.02, 0.06, -0.09, 0.03, -0.11, 0.05, -0.04, 0.09, -0.06, 0.01, -0.1, 0.04, -0.13,
  0.02, -0.07, 0.09, -0.03, 0.05, -0.06, 0.08, 0.14, -0.01, 0.06, -0.08, 0.03, -0.1, 0.04, -0.04, 0.07, -0.02, 0.11, -0.05, 0.03,
  -0.06, 0.04, -0.11, 0.02, -0.04, 0.09, -0.03, 0.06, -0.07, 0.1, 0.14, -0.01, 0.05, -0.08, 0.03, -0.1, 0.02, -0.05, 0.08, -0.03,
  0.11, -0.04, 0.06, -0.07, 0.02, -0.1, 0.04, -0.05, 0.09, -0.02, 0.06, -0.08, 0.02, -0.12, 0.01, -0.06, 0.09, -0.03, 0.05, -0.07,
  0.08, 0.14, -0.01, 0.05, -0.06, 0.03, -0.09, 0.04, -0.04, 0.07, -0.02, 0.11, -0.05, 0.04, -0.07, 0.02, -0.1, 0.03, -0.04, 0.09,
  -0.03, 0.05, -0.07, 0.08, 0.14, -0.01, 0.06, -0.05, 0.03, -0.09, 0.04, -0.06, 0.05, -0.03, 0.11, -0.02, 0.07, -0.06, 0.02, -0.1,
  0.03, -0.05, 0.09, -0.02, 0.05, -0.08, 0.02, -0.12, 0.01, -0.06, 0.09, -0.03, 0.04, -0.07, 0.08, 0.14, -0.01, 0.06, -0.05, 0.03,
  -0.09, 0.04, -0.05, 0.07, -0.02, 0.11, -0.04, 0.05, -0.07, 0.03, -0.1, 0.04, -0.06, 0.09, -0.02, 0.06, -0.05, 0.08, 0.14, -0.01,
  0.05, -0.07, 0.03, -0.09, 0.04, -0.04, 0.1, 0.16, 0.22, 0.27, 0.12, 0.05, -0.06, 0.04, -0.08, 0.02, -0.09, 0.05, -0.03, 0.07,
  0.11, -0.03, 0.05, -0.07, 0.03, -0.1, 0.04, -0.05, 0.09, -0.02, 0.06, -0.08, 0.02, -0.12, 0.01, -0.06, 0.09, -0.03, 0.05, -0.06];

const y3_r17 = [0.55,
  0.14, -0.03, 0.08, -0.06, 0.05, -0.09, 0.02, -0.07, 0.06, -0.02, 0.09, -0.05, 0.03, -0.1, 0.01, -0.06, 0.07, -0.03, 0.05, -0.08,
  0.04, -0.05, 0.1, -0.02, 0.06, -0.08, 0.02, -0.06, 0.07, -0.01, 0.09, -0.05, 0.03, -0.07, 0.05, 0.1, -0.02, 0.06, -0.04, 0.03,
  -0.09, 0.02, -0.05, 0.06, -0.02, 0.09, -0.04, 0.04, -0.07, 0.03, -0.09, 0.05, -0.01, 0.08, -0.04, 0.03, -0.06, 0.06, 0.11, -0.01,
  0.05, -0.06, 0.03, -0.08, 0.02, -0.04, 0.07, -0.02, 0.09, -0.05, 0.04, -0.07, 0.02, -0.1, 0.01, -0.03, 0.07, -0.04, 0.05, -0.06,
  0.06, 0.11, -0.01, 0.05, -0.06, 0.03, -0.08, 0.02, -0.04, 0.08, -0.02, 0.06, -0.05, 0.03, -0.1, 0.01, -0.04, 0.06, -0.02, 0.09,
  -0.03, 0.05, -0.07, 0.04, -0.09, 0.02, -0.04, 0.08, -0.01, 0.06, -0.05, 0.06, 0.11, -0.01, 0.05, -0.06, 0.03, -0.08, 0.02, -0.04,
  0.07, -0.02, 0.09, -0.05, 0.04, -0.07, 0.02, -0.1, 0.01, -0.04, 0.07, -0.03, 0.05, -0.06, 0.06, 0.11, -0.01, 0.05, -0.06, 0.03,
  -0.08, 0.02, -0.04, 0.08, -0.02, 0.06, -0.05, 0.03, -0.1, 0.01, -0.04, 0.06, -0.02, 0.09, -0.03, 0.05, -0.07, 0.04, -0.09, 0.02,
  -0.03, 0.08, -0.01, 0.06, -0.05, 0.06, 0.11, -0.01, 0.05, -0.06, 0.03, -0.08, 0.02, -0.04, 0.07, -0.02, 0.09, -0.05, 0.04, -0.07,
  0.02, -0.1, 0.01, -0.04, 0.07, -0.03, 0.05, -0.06, 0.06, 0.11, -0.01, 0.05, -0.06, 0.03, -0.08, 0.02, -0.04, 0.08, -0.02, 0.06,
  -0.05, 0.03, -0.1, 0.01, -0.04, 0.06, -0.02, 0.09, -0.03, 0.05, -0.07, 0.04, -0.09, 0.02, -0.03, 0.08, -0.01, 0.06, -0.05, 0.06];

const regions = [y3_r00, y3_r01, y3_r02, y3_r03, y3_r04, y3_r05, y3_r06, y3_r07, y3_r08,
                 y3_r09, y3_r10, y3_r11, y3_r12, y3_r13, y3_r14, y3_r15, y3_r16, y3_r17];

const FONT = 'DejaVu Sans';
const minus = v => (v < 0 ? '\u2212' + Math.abs(v) : String(v));

// matplotlib draws later lines on top; chart.js puts the lowest `order` on top
const datasets = regions.map((vals, i) => ({
  label: 'region ' + i,
  data: vals.map((v, k) => ({ x: k * STEP, y: v })),
  borderColor: tab10[i % tab10.length],
  borderWidth: 1.8,
  borderJoinStyle: 'round',
  pointRadius: 0,
  tension: 0,
  order: regions.length - i
}));

// full box around the axes, like matplotlib spines
const frame = {
  id: 'frame',
  afterDraw(chart) {
    const { ctx, chartArea: a } = chart;
    ctx.save();
    ctx.strokeStyle = '#000';
    ctx.lineWidth = 1;
    ctx.strokeRect(Math.round(a.left) + 0.5, Math.round(a.top) + 0.5,
                   Math.round(a.right - a.left) - 1, Math.round(a.bottom - a.top));
    ctx.restore();
  }
};

new Chart(document.getElementById('regionChart').getContext('2d'), {
  type: 'line',
  data: { datasets },
  plugins: [frame],
  options: {
    responsive: false,
    devicePixelRatio: 1,
    animation: false,
    events: [],
    layout: { padding: { left: 0, right: 11, top: 0, bottom: 0 } },
    plugins: {
      legend: { display: false },
      tooltip: { enabled: false },
      title: {
        display: true,
        text: 'Region Time Series: y3',
        color: '#000',
        font: { family: FONT, size: 12, weight: 'normal' },
        padding: { top: 15, bottom: 5 }
      },
      subtitle: {
        display: true,
        text: 'State Variable = y3',
        color: '#000',
        fullSize: false,
        font: { family: FONT, size: 12, weight: 'normal' },
        padding: { top: 0, bottom: 2.2 }
      }
    },
    scales: {
      x: {
        type: 'linear',
        min: -55,
        max: 1157,
        afterBuildTicks: s => { s.ticks = xTicks.map(v => ({ value: v })); },
        afterFit: s => { s.height = 42; },
        grid: { drawOnChartArea: false, color: '#000', tickLength: 3.5 },
        border: { display: true, color: '#000', width: 1 },
        ticks: {
          color: '#000', font: { family: FONT, size: 10 }, padding: 2.5,
          maxRotation: 0, autoSkip: false, callback: v => minus(v)
        },
        title: {
          display: true, text: 'Time', color: '#000',
          font: { family: FONT, size: 10 }, padding: { top: 0, bottom: 9.5 }
        }
      },
      y: {
        type: 'linear',
        min: -2.007,
        max: 2.689,
        afterBuildTicks: s => { s.ticks = yTicks.map(v => ({ value: v })); },
        afterFit: s => { s.width = 33; },
        grid: { drawOnChartArea: false, color: '#000', tickLength: 3.5 },
        border: { display: true, color: '#000', width: 1 },
        ticks: {
          color: '#000', font: { family: FONT, size: 10 }, padding: 3.5,
          autoSkip: false, callback: v => minus(v)
        }
      }
    }
  }
});
</script>
</body>
</html>
